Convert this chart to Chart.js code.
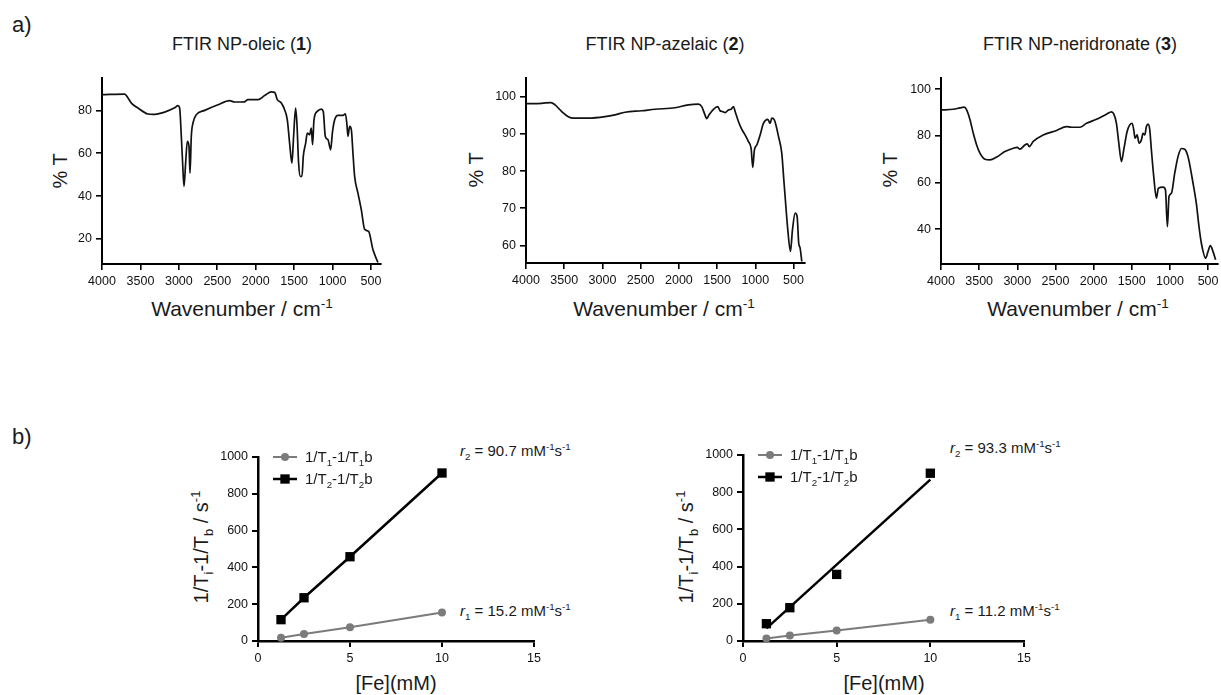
<!DOCTYPE html>
<html>
<head>
<meta charset="utf-8">
<script src="https://cdn.jsdelivr.net/npm/chart.js@4.4.0/dist/chart.umd.min.js"></script>
<style>
  html, body { margin: 0; padding: 0; background: #fff; width: 1221px; height: 695px; overflow: hidden; }
  body { position: relative; font-family: "Liberation Sans", Arial, sans-serif; color: #1a1a1a; }
  canvas { position: absolute; }
  .t { position: absolute; white-space: nowrap; line-height: 1; }
  .c { transform: translateX(-50%); }
  .r { transform: translate(-50%, -50%) rotate(-90deg); }
  sub, sup { font-size: 0.65em; line-height: 0; }
</style>
</head>
<body>
<div class="t" style="left:12px;top:14px;font-size:22px">a)</div>
<div class="t" style="left:12px;top:426px;font-size:22px">b)</div>

<div class="t c" style="left:242px;top:35px;font-size:18px">FTIR NP-oleic (<b>1</b>)</div>
<div class="t c" style="left:665px;top:35px;font-size:18px">FTIR NP-azelaic (<b>2</b>)</div>
<div class="t c" style="left:1080px;top:35px;font-size:18px">FTIR NP-neridronate (<b>3</b>)</div>

<div class="t r" style="left:60px;top:171px;font-size:20px">% T</div>
<div class="t r" style="left:476px;top:170px;font-size:20px">% T</div>
<div class="t r" style="left:890px;top:170px;font-size:20px">% T</div>

<div class="t c" style="left:242px;top:298px;font-size:21px">Wavenumber / cm<sup>-1</sup></div>
<div class="t c" style="left:664px;top:298px;font-size:21px">Wavenumber / cm<sup>-1</sup></div>
<div class="t c" style="left:1078px;top:298px;font-size:21px">Wavenumber / cm<sup>-1</sup></div>

<div class="t r" style="left:201px;top:547px;font-size:20px">1/T<sub>i</sub>-1/T<sub>b</sub> / s<sup>-1</sup></div>
<div class="t r" style="left:686px;top:547px;font-size:20px">1/T<sub>i</sub>-1/T<sub>b</sub> / s<sup>-1</sup></div>

<div class="t c" style="left:396px;top:673px;font-size:20px">[Fe](mM)</div>
<div class="t c" style="left:884px;top:673px;font-size:20px">[Fe](mM)</div>

<div class="t" style="left:460px;top:443px;font-size:15px"><i>r</i><sub>2</sub> = 90.7 mM<sup>-1</sup>s<sup>-1</sup></div>
<div class="t" style="left:460px;top:603px;font-size:15px"><i>r</i><sub>1</sub> = 15.2 mM<sup>-1</sup>s<sup>-1</sup></div>
<div class="t" style="left:950px;top:440px;font-size:15px"><i>r</i><sub>2</sub> = 93.3 mM<sup>-1</sup>s<sup>-1</sup></div>
<div class="t" style="left:950px;top:603px;font-size:15px"><i>r</i><sub>1</sub> = 11.2 mM<sup>-1</sup>s<sup>-1</sup></div>

<canvas id="ftir1"></canvas>
<canvas id="ftir2"></canvas>
<canvas id="ftir3"></canvas>
<canvas id="relaxA"></canvas>
<canvas id="relaxB"></canvas>

<script>
// FTIR spectra: wavenumber (cm-1) and %T
var oleicWn = [4000,3705,3662,3618,3532,3402,3337,3185,3055,3011,2990,2968,2951,2933,2912,2890,2868,2855,2838,2816,2773,2664,2491,2339,2274,2144,2101,1970,1884,1797,1754,1719,1667,1624,1589,1559,1529,1507,1481,1464,1442,1420,1398,1381,1350,1329,1298,1277,1260,1242,1199,1147,1121,1095,1060,1025,1003,973,930,865,834,813,800,778,756,735,713,670,626,583,531,474,410];
var oleicT = [87.3,87.6,85.8,83.4,81.1,78.3,78.1,79.2,81.2,82.2,81.1,67.9,55.4,44.5,55.4,65.5,63.2,50.7,67.9,74.1,78.0,80.0,82.6,84.5,83.9,84.0,85.0,85.0,86.9,88.6,88.4,85.0,83.4,80.3,75.6,64.7,55.4,67.9,81.1,74.1,55.4,49.2,49.2,58.5,64.7,69.4,68.6,71.7,64.0,75.6,79.5,80.6,79.5,67.9,66.3,61.6,69.4,75.6,77.7,77.7,78.4,73.3,67.9,72.5,71.0,60.1,49.2,41.4,33.6,24.5,23.5,14.9,9.0];

var azelaicWn = [4000,3795,3673,3620,3533,3446,3380,3184,2966,2835,2704,2486,2312,2050,1875,1744,1701,1666,1635,1605,1548,1491,1461,1430,1395,1352,1317,1286,1264,1221,1177,1134,1090,1055,1033,1012,981,937,894,837,806,785,750,697,654,627,610,575,540,514,479,453,432,414,392];
var azelaicT = [98.1,98.2,98.4,97.8,96.0,94.6,94.2,94.2,94.6,95.1,95.8,96.2,96.6,97.0,97.8,98.0,97.3,95.5,94.1,95.1,96.6,97.3,96.2,96.0,95.7,96.4,96.6,97.3,96.0,93.3,91.2,89.7,87.9,86.1,81.0,85.7,87.0,89.7,92.8,93.9,92.8,94.2,93.7,89.3,84.8,77.6,73.1,64.2,58.4,64.2,68.7,67.8,60.6,59.3,55.7];

var neridronateWn = [4000,3839,3751,3695,3664,3620,3577,3533,3490,3424,3359,3271,3162,3053,3001,2966,2901,2870,2844,2791,2661,2486,2355,2290,2181,2093,1962,1832,1766,1736,1701,1670,1635,1605,1561,1526,1496,1474,1457,1430,1404,1374,1352,1330,1308,1286,1264,1243,1212,1177,1151,1090,1059,1033,1012,981,937,894,850,806,763,697,654,619,588,531,501,470,435,401];
var neridronateT = [91.1,91.4,92.0,92.3,91.1,86.9,81.1,76.1,72.6,70.0,69.7,70.9,73.3,74.7,75.1,74.3,76.1,76.6,75.4,77.6,80.4,82.3,84.0,83.7,83.7,85.4,87.1,89.3,90.3,89.4,85.4,76.9,69.0,74.0,81.9,84.7,85.4,82.6,79.0,80.4,76.9,78.3,81.1,80.4,84.0,85.0,82.6,74.0,62.6,53.3,57.6,58.0,56.9,41.1,54.0,55.4,64.0,71.1,74.6,74.3,71.1,59.7,51.1,41.1,34.0,27.6,30.4,33.0,30.4,26.9];

// tick values
var wnTicks = [4000, 3500, 3000, 2500, 2000, 1500, 1000, 500];
var oleicTicks = [20, 40, 60, 80];
var azelaicTicks = [60, 70, 80, 90, 100];
var neridronateTicks = [40, 60, 80, 100];
var feTicks = [0, 5, 10, 15];
var rateTicks = [0, 200, 400, 600, 800, 1000];

// relaxation rates vs [Fe] (mM)
var feConc = [1.25, 2.5, 5, 10];
var leftT1 = [18, 38, 75, 155];
var leftT2 = [116, 235, 458, 913];
var rightT1 = [14, 30, 57, 114];
var rightT2 = [93, 179, 358, 902];
// fitted T2 line drawn in the right panel (end points)
var rightFitX = [1.25, 10];
var rightFitT2 = [68, 868];

var FONT = '"Liberation Sans", Arial, sans-serif';
var PAD_L = 70, PAD_T = 20, PAD_R = 25, PAD_B = 32;

function place(canvas, r) {
  canvas.style.left = (r.l - PAD_L) + 'px';
  canvas.style.top = (r.t - PAD_T) + 'px';
  canvas.width = r.r - r.l + PAD_L + PAD_R;
  canvas.height = r.b - r.t + PAD_T + PAD_B;
}

function axis(o, isX) {
  return {
    type: 'linear', min: o.min, max: o.max, reverse: !!o.reverse,
    border: { display: true, color: '#000', width: o.bw },
    grid: { display: true, drawOnChartArea: false, drawTicks: true, tickLength: 6, color: '#000', lineWidth: o.tw },
    ticks: { padding: 4, color: '#111', font: { family: FONT, size: 12.5 },
             maxRotation: 0, autoSkip: false,
             callback: function(v) { return String(v); } },
    afterBuildTicks: function(s) {
      s.ticks = o.ticks.map(function(v) { return { value: v }; });
    },
    afterFit: function(s) { if (isX) s.height = PAD_B; else s.width = PAD_L; }
  };
}

function pairs(xs, ys) {
  return xs.map(function(x, i) { return { x: x, y: ys[i] }; });
}

function baseOptions(xs, ys) {
  return {
    responsive: false, animation: false, events: [],
    layout: { padding: { left: 0, top: PAD_T, right: PAD_R, bottom: 0 } },
    plugins: { legend: { display: false }, tooltip: { enabled: false } },
    scales: { x: xs, y: ys }
  };
}

function ftirChart(id, rect, wn, t, xMin, yMin, yMax, yTicks) {
  var canvas = document.getElementById(id);
  place(canvas, rect);
  new Chart(canvas, {
    type: 'scatter',
    data: { datasets: [{
      data: pairs(wn, t), showLine: true, borderColor: '#111', borderWidth: 1.7,
      pointRadius: 0, cubicInterpolationMode: 'monotone', fill: false
    }] },
    options: baseOptions(
      axis({ min: xMin, max: 4000, reverse: true, ticks: wnTicks, bw: 2, tw: 1.6 }, true),
      axis({ min: yMin, max: yMax, ticks: yTicks, bw: 2, tw: 1.6 }, false)
    )
  });
}

function drawRich(ctx, parts, x, y, size) {
  ctx.save();
  ctx.fillStyle = '#1a1a1a';
  ctx.textAlign = 'left';
  ctx.textBaseline = 'alphabetic';
  parts.forEach(function(p) {
    var s = (p.sub || p.sup) ? size * 0.65 : size;
    ctx.font = s + 'px ' + FONT;
    var dy = p.sub ? size * 0.28 : (p.sup ? -size * 0.4 : 0);
    ctx.fillText(p.t, x, y + dy);
    x += ctx.measureText(p.t).width;
  });
  ctx.restore();
}

var GREY = '#7b7b7b';
var legendItems = [
  { color: GREY, lw: 2, style: 'circle', r: 4,
    parts: [{ t: '1/T' }, { t: '1', sub: 1 }, { t: '-1/T' }, { t: '1', sub: 1 }, { t: 'b' }] },
  { color: '#000', lw: 2.5, style: 'rect', r: 6.6,
    parts: [{ t: '1/T' }, { t: '2', sub: 1 }, { t: '-1/T' }, { t: '2', sub: 1 }, { t: 'b' }] }
];

var relaxLegend = {
  id: 'relaxLegend',
  afterDraw: function(chart) {
    var ctx = chart.ctx, a = chart.chartArea;
    legendItems.forEach(function(it, i) {
      var y = a.top + i * 22;
      var x0 = a.left + 15, x1 = a.left + 39;
      ctx.save();
      ctx.strokeStyle = it.color;
      ctx.fillStyle = it.color;
      ctx.lineWidth = it.lw;
      ctx.beginPath(); ctx.moveTo(x0, y); ctx.lineTo(x1, y); ctx.stroke();
      Chart.helpers.drawPoint(ctx, { pointStyle: it.style, radius: it.r, borderWidth: 0, rotation: 0 }, (x0 + x1) / 2, y);
      ctx.restore();
      drawRich(ctx, it.parts, a.left + 47, y + 5, 15);
    });
  }
};

function relaxChart(id, rect, t1, t2, fitX, fitY) {
  var canvas = document.getElementById(id);
  place(canvas, rect);
  var sets = [
    { data: pairs(feConc, t1), showLine: true, borderColor: GREY, borderWidth: 2,
      pointStyle: 'circle', pointRadius: 4, pointBackgroundColor: GREY, pointBorderWidth: 0, clip: false },
    { data: pairs(feConc, t2), showLine: !fitX, borderColor: '#000', borderWidth: 2.5,
      pointStyle: 'rect', pointRadius: 6.6, pointBackgroundColor: '#000', pointBorderWidth: 0, clip: false }
  ];
  if (fitX) {
    sets.push({ data: pairs(fitX, fitY), showLine: true, borderColor: '#000', borderWidth: 2.5, pointRadius: 0 });
  }
  new Chart(canvas, {
    type: 'scatter',
    data: { datasets: sets },
    options: baseOptions(
      axis({ min: 0, max: 15, ticks: feTicks, bw: 2.5, tw: 2 }, true),
      axis({ min: 0, max: 1000, ticks: rateTicks, bw: 2.5, tw: 2 }, false)
    ),
    plugins: [relaxLegend]
  });
}

ftirChart('ftir1', { l: 102, t: 78, r: 381, b: 264 }, oleicWn, oleicT, 370, 8.3, 95.1, oleicTicks);
ftirChart('ftir2', { l: 526, t: 78, r: 805, b: 263 }, azelaicWn, azelaicT, 350, 55.3, 105, azelaicTicks);
ftirChart('ftir3', { l: 941, t: 78, r: 1218, b: 264 }, neridronateWn, neridronateT, 370, 25.1, 104.8, neridronateTicks);
relaxChart('relaxA', { l: 258, t: 457, r: 534, b: 641 }, leftT1, leftT2);
relaxChart('relaxB', { l: 743, t: 455, r: 1024, b: 641 }, rightT1, rightT2, rightFitX, rightFitT2);
</script>
</body>
</html>
